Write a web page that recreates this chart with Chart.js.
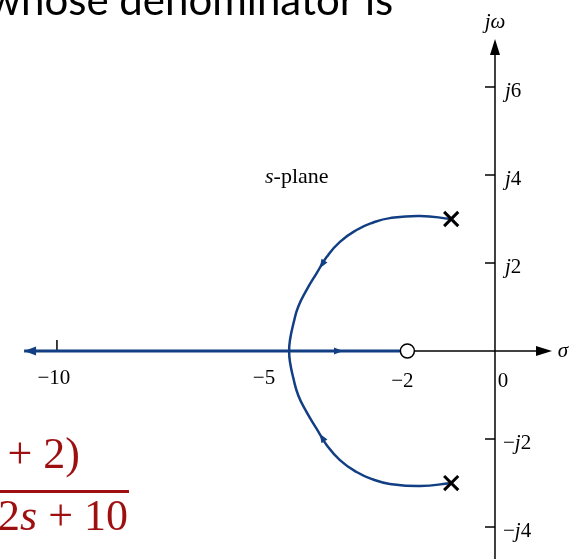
<!DOCTYPE html>
<html>
<head>
<meta charset="utf-8">
<script src="https://cdn.jsdelivr.net/npm/chart.js@4.4.1/dist/chart.umd.min.js"></script>
<style>
  html, body { margin: 0; padding: 0; background: #fff; }
  #wrap { position: relative; width: 578px; height: 559px; overflow: hidden; }
  #lienzo { position: absolute; left: 0; top: 0; }
  .texto { position: absolute; white-space: nowrap; }
  #encabezado { left: -12px; top: -22px; font: 42px Lato, "Open Sans", sans-serif; line-height: 42px; color: #000; }
  .frac { font-family: "Liberation Serif", serif; font-size: 44px; line-height: 44px; color: #9e1010; text-align: right; }
  #numerador { right: 498px; top: 432px; }
  #denominador { right: 450px; top: 494px; }
  #barra { position: absolute; left: 0; top: 490px; width: 129px; height: 3px; background: #9e1010; }
</style>
</head>
<body>
<div id="wrap">
  <canvas id="lienzo" width="578" height="559"></canvas>
  <div class="texto" id="encabezado">whose denominator is</div>
  <div class="texto frac" id="numerador">+ 2)</div>
  <div id="barra"></div>
  <div class="texto frac" id="denominador">2<i>s</i> + 10</div>
</div>
<script>
// ejes y etiquetas
const xTicks = [-10, -5, -2, 0];
const xTickLabels = ['−10', '−5', '−2', '0'];
const yTicks = [6, 4, 2, -2, -4];
const yTickLabels = ['j6', 'j4', 'j2', '−j2', '−j4'];

// polos y ceros
const polos = [[-1, 3], [-1, -3]];
const ceros = [[-2, 0]];

// lugar de las raices
const lugarReal = [[-10.75, 0], [-2, 0]];
const arcoSup = [[-1.0, 3.0], [-1.71, 3.07], [-2.40, 3.02], [-2.78, 2.92], [-3.16, 2.75], [-3.54, 2.48],
  [-3.84, 2.14], [-4.07, 1.77], [-4.30, 1.39], [-4.49, 1.01], [-4.60, 0.63], [-4.68, 0.25], [-4.70, 0]];
const arcoInf = [[-1.0, -3.0], [-1.71, -3.07], [-2.40, -3.02], [-2.78, -2.92], [-3.16, -2.75], [-3.54, -2.48],
  [-3.84, -2.14], [-4.07, -1.77], [-4.30, -1.39], [-4.49, -1.01], [-4.60, -0.63], [-4.68, -0.25], [-4.70, 0]];

// flechas: x, y, dx, dy
const flechas = [[-10.75, 0, -1, 0], [-3.47, 0, 1, 0], [-4.0, 1.88, -0.46, -0.75], [-4.0, -1.88, -0.46, 0.75]];

const azul = '#123f83';
const pts = arr => arr.map(p => ({ x: p[0], y: p[1] }));
// un solo trazo de polo a polo para que la curva pase suave por el eje
const arco = pts(arcoSup.concat(arcoInf.slice(0, -1).reverse()));

function dibujarEtiqueta(ctx, txt, x, y, align) {
  // j, ω y σ en cursiva
  const partes = [];
  for (const c of txt) {
    const it = (c === 'j' || c === 'ω' || c === 'σ');
    ctx.font = (it ? 'italic ' : '') + '21px "Liberation Serif", serif';
    partes.push({ c: c, f: ctx.font, w: ctx.measureText(c).width });
  }
  const total = partes.reduce((a, p) => a + p.w, 0);
  let cx = align === 'center' ? x - total / 2 : x;
  ctx.textBaseline = 'middle';
  ctx.textAlign = 'left';
  partes.forEach(p => {
    ctx.font = p.f;
    ctx.fillText(p.c, cx, y);
    cx += p.w;
  });
}

function punta(ctx, x, y, ang, largo, ancho) {
  ctx.save();
  ctx.translate(x, y);
  ctx.rotate(ang);
  ctx.beginPath();
  ctx.moveTo(0, 0);
  ctx.lineTo(-largo, -ancho);
  ctx.lineTo(-largo, ancho);
  ctx.closePath();
  ctx.fill();
  ctx.restore();
}

function dibujarEtiquetaPlano(ctx, x, y) {
  ctx.textBaseline = 'middle';
  ctx.textAlign = 'left';
  ctx.font = 'italic 22px "Liberation Serif", serif';
  ctx.fillText('s', x, y);
  const w = ctx.measureText('s').width;
  ctx.font = '22px "Liberation Serif", serif';
  ctx.fillText('-plane', x + w, y);
}

const planoS = {
  id: 'planoS',
  beforeDatasetsDraw(chart) {
    const { ctx, scales: { x, y } } = chart;
    const x0 = x.getPixelForValue(0), y0 = y.getPixelForValue(0);
    ctx.save();
    ctx.strokeStyle = '#000';
    ctx.fillStyle = '#000';
    ctx.lineWidth = 1.5;
    // eje real
    ctx.beginPath();
    ctx.moveTo(x.getPixelForValue(-10), y0);
    ctx.lineTo(x.right - 30, y0);
    ctx.stroke();
    punta(ctx, x.right - 26, y0, 0, 16, 5);
    // eje imaginario
    ctx.beginPath();
    ctx.moveTo(x0, y.bottom);
    ctx.lineTo(x0, y.top + 50);
    ctx.stroke();
    punta(ctx, x0, y.top + 39, -Math.PI / 2, 16, 5);
    // marcas
    yTicks.forEach(v => {
      const py = y.getPixelForValue(v);
      ctx.beginPath();
      ctx.moveTo(x0 - 10, py);
      ctx.lineTo(x0, py);
      ctx.stroke();
    });
    const pxm = x.getPixelForValue(-10);
    ctx.beginPath();
    ctx.moveTo(pxm, y0);
    ctx.lineTo(pxm, y0 - 11);
    ctx.stroke();
    ctx.restore();
  },
  afterDatasetsDraw(chart) {
    const { ctx, scales: { x, y } } = chart;
    const x0 = x.getPixelForValue(0), y0 = y.getPixelForValue(0);
    ctx.save();
    ctx.fillStyle = azul;
    flechas.forEach((f, i) => {
      const px = x.getPixelForValue(f[0]), py = y.getPixelForValue(f[1]);
      const ang = Math.atan2(y.getPixelForValue(f[1] + f[3]) - py, x.getPixelForValue(f[0] + f[2]) - px);
      if (i === 0) punta(ctx, px, py, ang, 12, 4.5);
      else punta(ctx, px, py, ang, 9, 3.5);
    });
    ctx.fillStyle = '#000';
    xTicks.forEach((v, i) => {
      const dy = (v === -2 || v === 0) ? 30 : 27;
      const dx = v === 0 ? 8 : (v === -5 ? -12 : (v === -2 ? -5 : -3));
      dibujarEtiqueta(ctx, xTickLabels[i], x.getPixelForValue(v) + dx, y0 + dy, 'center');
    });
    yTicks.forEach((v, i) => {
      dibujarEtiqueta(ctx, yTickLabels[i], x0 + (v > 0 ? 10 : 8), y.getPixelForValue(v) + 4, 'left');
    });
    dibujarEtiqueta(ctx, 'jω', x0, 22, 'center');
    dibujarEtiqueta(ctx, 'σ', x.right - 15, y0, 'center');
    dibujarEtiquetaPlano(ctx, 265, 177);
    ctx.restore();
  }
};

const ctx = document.getElementById('lienzo').getContext('2d');
const grafico = new Chart(ctx, {
  type: 'scatter',
  data: {
    datasets: [
      { data: pts(ceros), pointStyle: 'circle', pointRadius: 7, backgroundColor: '#fff', borderColor: '#000', borderWidth: 1.5, order: 0 },
      { data: pts(polos), pointStyle: 'crossRot', pointRadius: 10, borderColor: '#000', borderWidth: 3, order: 0 },
      { data: pts(lugarReal), showLine: true, borderColor: azul, borderWidth: 3, pointRadius: 0, order: 1 },
      { data: arco, showLine: true, borderColor: azul, borderWidth: 2.5, pointRadius: 0, tension: 0.5, order: 1 }
    ]
  },
  options: {
    responsive: false,
    animation: false,
    devicePixelRatio: 1,
    layout: { padding: 0, autoPadding: false },
    plugins: { legend: { display: false }, tooltip: { enabled: false } },
    scales: {
      x: { type: 'linear', min: -11.30, max: 1.895, display: false },
      y: { type: 'linear', min: -4.727, max: 7.977, display: false }
    }
  },
  plugins: [planoS]
});
</script>
</body>
</html>
